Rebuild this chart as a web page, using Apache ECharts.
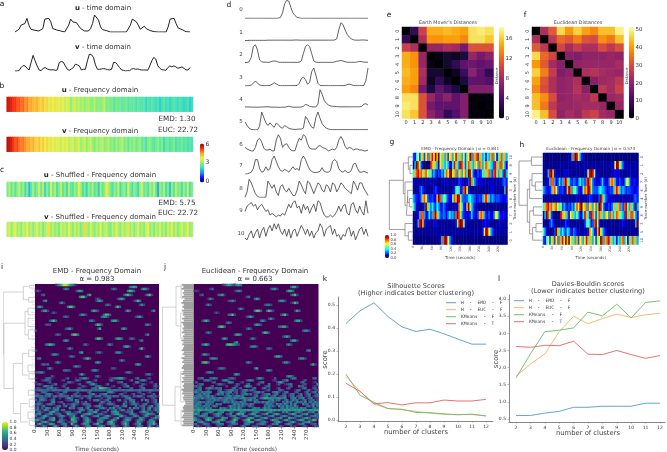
<!DOCTYPE html>
<html><head><meta charset="utf-8">
<style>html,body{margin:0;padding:0;background:#fff}#c{width:667px;height:452px}</style>
<script src="https://cdn.jsdelivr.net/npm/echarts@6/dist/echarts.min.js"></script>
</head><body><div id="c"></div>
<script>
// ---- panel a: time-domain traces
const uTime=[0,1,8,20,15,25,40,20,8,6,5,4,3,2,10,38,42,40,30,10,5,6,7,3,1,0,3,20,38,30,28,27,18,10,5,3,3,3,10,25,50,45,35,15,7,6,4,5,0,0,0,0,0,0,0,0,0,0,20,38,35,30,20,8,8,17,10,5,4,3,1,0,0,0,0,0,0,15,38,43,40,25,12,8,7,2,1,0,0];
const vTime=[0,0,1,10,16,15,8,3,25,46,30,15,3,1,8,10,6,4,3,4,2,3,25,28,26,15,5,2,6,10,20,18,15,3,5,5,30,50,48,40,18,5,5,6,7,6,4,3,5,25,25,18,10,3,2,0,1,1,6,7,5,6,4,3,3,3,2,15,30,40,35,15,8,4,3,2,10,15,12,15,12,8,10,12,8,3,3,10];
// ---- panels b, c: frequency strips
const bU=[5.6,5.5,5.4,5.2,5.2,5,5,4.8,4.9,4.6,4.7,4.4,4.5,4.3,4.2,4.4,4.1,4,4.2,3.9,4,3.6,3.9,3.7,3.9,3.6,3.8,3.5,3.7,3.4,3.6,3.5,3,3.4,3.5,3.2,3.4,3.1,3.3,3,3.2,3.3,3,3,3.3,2.9,3.1,2.9,3.1,3.4,2.8,3,2.8,2.9,2.5,2.9,2.7,2.8,2.6,2.7,2.8,2.5,2.7,2.6,2.7,2.4,2.7,2.5,2.5,2.6,2.2,2.5,2.4,2.6,2.4,2.3,2.5,2.1,2.4,2.6,2.3,2.5,2.2,2.4,2.6,2.4,2.3,2.5,2.4,2.2,2.3,2.5,2.1,2.3];
const bV=[5.7,5.6,5.5,5.2,5,5.1,4.8,4.7,4.8,4.6,4.4,4.5,4.2,4.4,4.1,4,4.2,3.9,4.1,3.8,4,3.6,3.9,3.7,3.5,3.8,3.6,3.4,3.7,3.5,3.7,3.3,3.5,3.6,3.2,3.4,3.6,3.1,3.3,3.5,3,3.3,3.5,3.1,2.8,3.3,3,3.2,3.4,2.9,3.1,3.3,2.9,3.1,2.7,3.2,2.9,3.1,3.3,2.8,3,2.6,3,2.8,3.1,2.7,2.9,3.1,2.6,2.8,2.4,2.9,3,2.7,2.5,2.8,3,2.6,2.9,2.3,2.7,2.8,2.5,2.7,2.9,2.4,2.7,2.6,2.8,2.5,2.7,2.4,2.6,2.5];
const cU=[2.8,3.3,2.6,3.1,2.5,3,3.4,2.7,3.1,2.3,2.9,1.9,2.6,3.2,2.5,2.9,3.5,2.7,3.3,2.2,3,2.5,3.6,2.8,3.2,2.4,2.9,3.4,2.6,3,2.3,3.3,2.7,2.5,3.1,2.8,3.7,3.2,2.4,2.9,2.2,3.1,2.7,3.3,2.5,2.9,2.1,3.2,2.6,3,3.8,3.3,2.8,2.4,3.1,2.7,3.4,2.3,2.9,3.1,2.5,3.6,2.8,2.4,3,2.7,2.2,3.2,3.5,2.6,2.9,2.4,3.2,2.8,3.4,2.6,1.8,3.1,2.7,3.3,2.4,2.9,2,3.1,2.5,3.4,2.8,3,2.3,3.2,2.6,3.5,2.4,2.9];
const cV=[3.3,3.6,3,3.4,3.7,3.1,3.3,2.9,3.5,3.2,3.7,3.1,3.4,2.9,3.3,3.6,3.1,3.4,2.8,3.2,3.5,3.9,3.1,3.4,3,3.2,2.8,3.5,3.2,3.4,3,3.7,3.3,2.9,3.5,3.1,3.4,2.8,3.2,4,3.3,3,3.6,3.2,2.9,3.4,3.1,3.7,3,3.3,3.5,3,2.8,3.4,3.1,3.8,3.2,2.9,3.5,3.1,3.3,3.9,3,3.4,2.8,3.3,3.6,3,3.2,2.9,3.5,3.7,3,3.3,2.8,3.4,3.1,3.6,3,3.3,2.9,3.5,3.2,3.8,3,3.4,2.9,3.2,3.6,3.1,3.3,3.7,3,3.2];
// ---- panel d: eleven traces (also the rows of panels g and h)
const traces=[
[0,0,0,0,0,0,0,0,0,0,0,0,0,0,0,0,.1,.5,3,8,10,9.5,6,3,1.5,.5,.2,0,0,0,0,0,0,0,0,0,0,0,0,0,0,0,0,0,0,0,0,0,0,0,0,0,0,0,0,0,0,0,0,0],
[.1,.1,.2,.2,.2,.2,.2,.2,.2,.2,.2,.3,.3,.3,.3,.3,.3,.3,.3,.3,.3,.3,.3,.3,.4,.4,.3,.3,.3,.3,.3,.3,.3,.3,.3,.3,.3,.3,.3,.3,.3,.3,.3,.4,1,6,10,9,6,3.5,2,1,.5,.3,.3,.3,.4,.4,.3,.2],
[.1,.1,.5,3,9,10,7,1.5,.5,.3,.3,.2,.3,.8,1,.8,.3,.2,.2,.2,.2,.2,.2,.2,.2,.2,.3,1,5,9,10,9,5,1,.3,.2,.2,.2,.2,.2,.2,.2,.2,.4,.8,1,1.2,1,.5,.3,.2,.2,.2,.2,.5,.7,.6,.3,.3,.2],
[.1,.1,.2,.5,1.5,2.8,1.5,.6,.3,.2,.2,.2,.3,1,1.8,1.2,.5,.2,.2,.2,.2,.2,.2,.2,.2,.3,1.5,4,5,3.5,1,2,8,10,6,1.5,.3,.2,.2,.2,.2,.2,.2,.2,.2,.2,.2,.2,.3,.8,1,.7,.3,.2,.2,.2,.2,.3,3,10],
[.5,.4,.4,.3,.3,.3,.3,.3,.4,.4,.5,.5,.4,.3,.3,.3,.2,.2,.3,.3,.5,.8,.5,.3,.3,.3,.3,.4,.8,1.8,1.5,.8,.5,.4,.4,2,10,7.5,4,2.5,1.5,1,.8,.7,.6,.5,.5,.5,.5,.5,.5,.5,.5,.5,.5,.5,.7,2,2.2,1.5],
[4.5,2.5,1,.3,.2,.1,.1,2,10,7,4,2.5,4,2.5,1.5,3.8,3,1.5,1,2.5,1.8,1,.6,.4,.3,.4,.5,.5,1,7.5,6,3.5,1.5,1,7,10,6.5,3.5,2,1,.5,.3,.2,.2,.2,.2,.2,.2,.2,.2,.2,.2,.2,.2,.2,.2,.2,.2,.2,.2],
[3,2,1.5,1,1,3,7,8,6,2.5,1.5,1.5,2,1,1,7,10,8,3,4.5,5,3,1.5,1,1.2,5,8,7,10,9,5,2.5,2,2,2,3.5,4,3,2.5,2,1,1.5,2,1.5,3,7,9,7,3.5,2,3,2.5,1.5,2,2,1.5,1.5,1,1,1.5],
[0,0,.5,1,3,8,8,3,1,1.5,4,2,3,8,10,7,4,2,1.5,2.5,2,1,2.5,4,2.5,3,2,8,10,8,5,2.5,1.5,.8,.8,1,1.5,3.5,1.5,1,1,2,7,8,7,3,1.5,1,2,1,.8,2,5.5,6,3,1,1,1.5,1,.5],
[0,3,10,8,5,2,.5,0,0,0,0,9,7,5,7,3,1,6,7,4,3,5,3,1,1,4,9,7,4,2,9,8,5,2,5,8,7,4,3,7,6,3,8,7,3,5,8,7,5,4,3,2,9,7,4,8,8,5,3,1],
[4,7,8,9,7,8,5,7,8,6,4,5,2,3,2,1,2,1.5,3,2,5,8,6,9,10,6,7,3,8,5,7,3,6,8,4,10,9,5,2,1,1,2,1,2,4,7,4,7,8,3,2,8,9,5,3,7,4,2,10,3],
[2,1,4,6,2,5,7,2,6,8,3,7,9,6,10,7,10,6,4,7,3,7,2,6,7,3,6,9,7,4,7,3,6,2,5,6,10,8,3,7,8,9,4,7,3,4,1,4,3,7,8,3,6,1,4,7,8,4,7,3]];
const traceLabels=['0','1','2','3','4','5','6','7','8','9','10'];
// ---- panels e, f: distance matrices
const emd=[[0,3,10,15,15,15.5,15,14.5,17,17.5,17],[3,0,8.5,14,14,14.5,14.5,13.5,17,17,16],[10,8.5,0,7.5,7.5,8.5,8,6,11,11,11],[15,14,7.5,0,.5,1.5,1,2,7.5,6,7],[15,14,7.5,.5,0,1.5,3,5,5.5,5,5.5],[15.5,14.5,8.5,1.5,1.5,0,1,3.5,7,5,3],[15,14.5,8,1,3,1,0,2,5,5,4.5],[14.5,13.5,6,2,5,3.5,2,0,6.5,6.5,6.5],[17,17,11,7.5,5.5,7,5,6.5,0,.3,.3],[17.5,17,11,6,5,5,5,6.5,.3,0,.3],[17,16,11,7,5.5,3,4.5,6.5,.3,.3,0]];
const euc=[[0,24,32,47,40,46,41,38,44,44,50],[24,0,26,34,32,37,31,30,39,36,44],[32,26,0,29,23,27,24,24,30,26,30],[47,34,29,0,19,18,20,20,20,21,20],[40,32,23,19,0,20,21,21,21,21,23],[46,37,27,18,20,0,24,25,23,22,21],[41,31,24,20,21,24,0,19,22,23,26],[38,30,24,20,21,25,19,0,26,23,28],[44,39,30,20,21,23,22,26,0,21,23],[44,36,26,21,21,22,23,23,21,0,21],[50,44,30,20,23,21,26,28,23,21,0]];
// ---- panels g, h: row orders and trees [y1,y2,join,x1,x2]
const gOrder=[10,8,9,4,3,6,5,7,2,1,0];
const hOrder=[0,1,2,7,6,4,9,8,3,5,10];
const gTree=[[120,145,105,113,113],[95,132,100,113,105],[220,245,103,113,113],[195,232,98,113,103],[213,270,94,98,113],[170,241,90,113,94],[113,205,85,100,90],[320,345,100,113,113],[295,332,90,113,100],[165,313,43,85,90]];
const hTree=[[95,120,470,503,503],[170,195,482,503,503],[145,182,472,503,482],[164,220,465,472,503],[245,270,476,503,503],[295,320,484,503,503],[307,345,474,484,503],[257,326,465,476,474],[192,291,458,465,465],[107,240,433,470,458]];
// ---- panels i, j: response rasters, [row, column, values in tenths]
const iCells=[[0,10,'13579986531'],[1,47,'3565'],[2,14,'253'],[2,38,'242'],[2,53,'3652'],[3,0,'131'],[3,20,'1464'],[3,46,'4763'],[5,3,'23'],[5,26,'36'],[5,44,'25752'],[5,55,'2572'],[6,22,'4772'],[7,30,'131'],[7,41,'2563'],[8,4,'35'],[8,30,'1463'],[8,49,'1374'],[9,12,'252'],[10,35,'242'],[10,52,'252'],[11,1,'363'],[11,16,'4773'],[11,40,'373'],[13,3,'2562'],[13,28,'3652'],[13,45,'263'],[13,58,'25'],[14,8,'131'],[15,22,'2552'],[15,34,'3773'],[16,33,'3552'],[16,14,'242'],[16,50,'2462'],[18,7,'2573'],[18,27,'352'],[18,38,'4662'],[20,5,'232'],[20,30,'3762'],[20,55,'352'],[22,15,'2462'],[22,31,'26'],[22,43,'363'],[23,0,'2'],[25,10,'242'],[25,18,'4774'],[25,55,'25'],[27,30,'3773'],[27,40,'3663'],[27,47,'242'],[28,14,'363'],[28,52,'24'],[30,5,'35763'],[30,24,'241'],[30,36,'252'],[31,44,'3662'],[32,16,'252'],[32,52,'371'],[33,0,'2'],[34,22,'36'],[34,30,'1341'],[34,40,'3551'],[35,8,'2552'],[36,17,'242'],[36,55,'362'],[37,1,'34'],[37,24,'2473'],[38,42,'252'],[39,10,'252'],[39,30,'363'],[40,3,'2423'],[40,50,'364'],[41,19,'2542'],[42,6,'252'],[42,38,'231'],[43,14,'3432'],[43,28,'2552'],[44,0,'23452'],[44,45,'2441'],[45,22,'262'],[45,55,'2441'],[46,8,'31'],[46,30,'241'],
[47,0,'10000234100000013000102355200000000001234566310000240000120000'],
[48,0,'00012342000001200000242000000130000002410000000130002452000000'],
[49,0,'20000013000000003421000001452100000000000234000000451000012000'],
[50,0,'12310000124000120000013000025520000130000001230001000231000130'],
[51,0,'00003542300001300000000231000034410000120000235000002300000241'],
[52,0,'13210134523100024000023100002342776532000130000230001340000120'],
[53,0,'23443342344343344333443444334343444334344333434443334343344333'],
[54,0,'10034300001200340000130000240000000045520000120000023000130000'],
[55,0,'23100345200134210002301000034510234501000024100013000230001300'],
[56,0,'44342334134234333042343123342133402343243302343103244310234231'],
[57,0,'10343200130020024530001300240000120034000000034510000120002300'],
[58,0,'30454201340000012340530000020345201340000340120453000405301240'],
[59,0,'02310000450123000001350214000000153024010000140235010000301240'],
[60,0,'34420134420000402134320143420000320134420000520134420134000134'],
[61,0,'13024000001340240135000002340134520000023402450000402340135024'],
[62,0,'24030453042500000534023402500000345204350240000505340240350234'],
[63,0,'34204530135403400000004530254034000040234025403240000240340253'],
[64,0,'03421004563200134401235000243560012300456400123350002465312004'],
[65,0,'34500235512340006543200134563002341000245631000354200123654300'],
[66,0,'40025631000245410335000642001345002463100056320014530026410035'],
[67,0,'12345003460023000156420034510000345530024600134420005431002363'],
[68,0,'56320014560034210076410025630003542001463000256400135620045310'],
[69,0,'20045631000354201236500024631003450046731002453000164200345600'],
[70,0,'04730025640013540073100256400347200135640002573001346000254730'],
[71,0,'30125300046200351002630013540002463000352100263000145300262013']];
const jCells=[[0,14,'1246531'],[0,20,'2564'],[1,48,'3662'],[2,8,'23'],[2,38,'2452'],[3,0,'121'],[3,20,'1353'],[3,46,'3663'],[5,3,'23'],[5,12,'3461'],[5,48,'2572'],[6,26,'24'],[7,7,'252'],[7,30,'363'],[8,17,'2352'],[8,42,'3552'],[9,48,'1374'],[10,6,'252'],[10,35,'2442'],[12,22,'252'],[13,30,'4773'],[13,36,'3752'],[13,50,'263'],[14,10,'131'],[15,17,'3472'],[15,43,'2572'],[16,26,'2462'],[17,37,'252'],[18,4,'2573'],[18,33,'352'],[18,50,'3662'],[19,16,'252'],[20,30,'3652'],[21,12,'4773'],[21,42,'34662'],[22,26,'252'],[23,54,'3552'],[24,6,'252'],[24,34,'3762'],[25,20,'2663'],[26,44,'2463'],[27,14,'363'],[27,28,'252'],[28,48,'3662'],[29,20,'36'],[30,4,'3573'],[30,16,'5776532'],[30,46,'352'],[31,28,'3552'],[32,36,'242'],[33,56,'35'],[35,4,'2642'],[36,40,'3663'],[37,8,'3553'],[37,52,'3552'],[39,4,'5773'],[39,26,'352'],[39,44,'2552'],[40,58,'362'],[42,12,'2442'],[42,30,'36'],[43,36,'353'],[44,6,'2453'],[45,20,'463'],[46,46,'3552'],
[47,0,'00234000345300000234200000000002552000003000000024400000000340'],
[48,0,'00000344200000355200000000245300000000012000235000000013000000'],
[49,0,'13000000023000000453000120000000134000000256300000000240000120'],
[50,0,'00234000000134210000032000240001300004000130012340000023000005'],
[51,0,'34230000130000002000130002653000000134000000000230004331000120'],
[52,0,'00340034532434000003401300000240003402000130002300000134000230'],
[53,0,'24340013000034012345230134523420000123000034200000134000241023'],
[54,0,'45325345400034523450230134000134523000034520134000230002401340'],
[55,0,'02342534000253403402030134524023002345013400230134002401340023'],
[56,0,'33453245342000023452345340000134012340234012340134023401240134'],
[57,0,'54435334354345334543543455334340135665544554450034503450134012'],
[58,0,'34200023425342345234200025345234000003452340134025340134023402'],
[59,0,'43453425340000253425342534000053425345342000425340253425034253'],
[60,0,'34530053420534000002534253425300000253420534253042500053402534'],
[61,0,'45342534025300000253425342034200000425342053425342530000342504'],
[62,0,'34534253400005342053425300000253402534200003425345342534000342'],
[63,0,'65665565566556565655656556565655565655656565565655656565556566'],
[64,0,'43500123540034500043102543000345310024530001435200345300143500'],
[65,0,'56402450013564002350047560024650013460025641000346500245610034'],
[66,0,'20345530002453100134500245300035420013450002453100345400013453'],
[67,0,'54100346530001654002453100256500034651002345000654300135640023'],
[68,0,'65320067500245630013750024670035642000365400256300135650023760'],
[69,0,'00456210034560002345610003466500134520004563000256310034562000'],
[70,0,'34102543000345400125430003540002345300143500024530013450002340'],
[71,0,'02310023100132000231000143000223100013200023100031200023100132']];
const iTree=[[112,297,10,70,12],[205,400,12,75,40],[95,135,70,86,86],[170,240,75,84,84],[325,475,40,68,62],[295,360,68,84,84],[445,500,62,84,84],[92,100,88,105,105],[128,142,86,105,105],[160,180,84,105,105],[190,215,84,105,105],[225,252,85,105,105],[285,305,86,105,105],[330,350,84,105,105],[355,372,87,105,105],[405,420,85,105,105],[432,455,88,105,105],[470,490,84,105,105],[495,510,88,105,105]];
const jTree=[[157,450,8,48,45],[95,213,48,62,62],[395,497,45,62,62],[90,130,63,72,72],[175,250,62,72,72],[350,440,62,72,72],[465,510,63,72,72]];
const iLeafStart=[95,97,92,99,94,96,98,93,100,95,97,93,99,94,96,100,92,95,98,94,97,93,99,95,92,96,100,94,97,93,98,95,92,99,94,96];
const jLeafStart=[66,70,64,72,68,71,66,73,69,64,71,67,72,65,70,68,73,66,71,64,69,72,67,70,65,73,68,71,64,70,66,72,69,65,71,67,73,64,70,66,72,68,65,71,69,64,73,67,70,65,72,68,71,64,69,66,72,68,70,74,76,72,68,70,66,72,68,65,71,67,70,66];
// ---- panels k, l: cluster scores
const clusters=[2,3,4,5,6,7,8,9,10,11,12];
const seriesNames=['H  -  EMD  -  F','H  -  EUC  -  F','KMeans  -  F','KMeans  -  T'];
const silEMD=[.42,.475,.51,.45,.405,.385,.395,.375,.352,.33,.33];
const silEUC=[.19,.125,.07,.05,.045,.038,.03,.025,.024,.024,.018];
const silKF=[.2,.108,.077,.05,.047,.033,.032,.027,.023,.026,.018];
const silKT=[.16,.125,.07,.076,.066,.075,.075,.087,.083,.083,.09];
const dbEMD=[.6,.6,.67,.72,.84,.84,.87,.87,.87,.96,.96];
const dbEUC=[1.75,2.1,2.4,3.05,3.5,3.28,3.43,3.56,3.46,3.54,3.59];
const dbKF=[1.7,2.4,3.05,3.09,3.16,3.62,3.51,3.85,3.45,3.9,3.95];
const dbKT=[2.62,2.59,2.65,2.64,2.77,2.39,2.38,2.5,2.38,2.27,2.35];
const timeTicks=[0,30,60,90,120,150,180,210,240,270];

const JET=['#00007f','#0000ff','#007fff','#00ffff','#7fff7f','#ffff00','#ff7f00','#ff0000','#7f0000'];
const SOFTJET=['#00007f','#1010ff','#2090f0','#35dcc8','#8ef07a','#eff04a','#ffa428','#ff2a10','#8a0000'];
const INFERNO=['#000004','#1b0c41','#4a0c6b','#781c6d','#a52c60','#cf4446','#ed6925','#fb9b06','#f7d13d','#fcffa4'];
const VIRIDIS=['#440154','#482878','#3e4989','#31688e','#26828e','#1f9e89','#35b779','#6ece58','#b5de2b','#fde725'];
const FONT='"DejaVu Sans"';
const LINE=['#5a9fd4','#ffb26b','#6dbf6d','#e66b6b'];

const G=[],X=[],Y=[],S=[],T=[];
const groups={strip:[],emd:[],euc:[],jet:[],vir:[]};
const hid=(min,max,inv)=>({type:'value',show:false,min,max,inverse:!!inv,splitLine:{show:false}});
const hcat=(n,inv)=>({type:'category',show:false,inverse:!!inv,data:Array.from({length:n},(_,i)=>i)});
function grid(l,t,w,h,x,y,bg){const i=G.length;
 G.push(bg?{left:l,top:t,width:w,height:h,show:true,backgroundColor:bg,borderWidth:0}:{left:l,top:t,width:w,height:h,show:false});
 X.push({gridIndex:i,...x});Y.push({gridIndex:i,...y});return i;}
function line(i,data,color,w,name){S.push({type:'line',xAxisIndex:i,yAxisIndex:i,data,name,symbol:'none',silent:true,animation:false,lineStyle:{color,width:w},itemStyle:{color}});}
function heat(i,data,g){groups[g].push(S.length);S.push({type:'heatmap',xAxisIndex:i,yAxisIndex:i,data,silent:true,animation:false,progressive:0,emphasis:{disabled:true}});}
function txt(s,x,y,o={}){T.push({type:'text',x,y,rotation:o.rot||0,silent:true,style:{text:s,x:0,y:0,textAlign:o.align||'center',textVerticalAlign:'middle',font:(o.weight||'normal')+' '+(o.size||7)+'px '+(o.family||FONT),fill:o.color||'#333',rich:{b:{font:'bold '+(o.size||7)+'px '+FONT,fill:'#222'}}}});}
const seq=a=>a.map((v,i)=>[i,v]);
function tree(i,m,c,w){const d=[];m.forEach(([y1,y2,j,x1,x2])=>{d.push([x1,y1],[j,y1],[j,y2],[x2,y2],['-','-']);});line(i,d,c,w);}

// panel letters
[['a',2,4],['b',2,86],['c',2,170],['d',229,5],['e',389,15],['f',525,15],['g',392,142],['h',522,145],['i',2,267],['j',165,267],['k',325,279],['l',499,279]].forEach(p=>txt(p[0],p[1],p[2],{size:7.5,color:'#111'}));

// a
line(grid(15,15,175,17,hid(0,88),hid(0,50)),seq(uTime),'#222',1);
line(grid(15,54,175,17,hid(0,87),hid(0,50)),seq(vTime),'#222',1);
txt('{b|u} - time domain',103,8);txt('{b|v} - time domain',103,47);
// b, c
function strip(t,vals){heat(grid(6.7,t,186.3,14.7,hcat(vals.length),hcat(1)),vals.map((v,i)=>[i,0,v]),'strip');}
strip(97,bU);strip(137,bV);strip(182,cU);strip(222,cV);
txt('{b|u} - Frequency domain',100,90);txt('{b|v} - Frequency domain',100,131);
txt('{b|u} - Shuffled - Frequency domain',100,175);txt('{b|v} - Shuffled - Frequency domain',100,217);
txt('EMD: 1.30',177,119,{size:7.2});txt('EUC: 22.72',178,130,{size:7.2});txt('EMD: 5.75',177,203,{size:7.2});txt('EUC: 22.72',178,213,{size:7.2});
function cbAxis(l,t,w,h,min,max,vals,fs,fmt){
 grid(l,t,w,h,hid(0,1),{type:'value',position:'right',min,max,splitLine:{show:false},axisLine:{show:false},
  axisTick:{show:false,customValues:vals},axisLabel:{show:true,customValues:vals,fontSize:fs,fontFamily:FONT,color:'#333',margin:1.5,formatter:fmt}});}
cbAxis(200,143.5,4,39,-.2,6.15,[0,3,6],6,v=>String(v));
// d
const dBase=[18.3,40.7,62.7,86,107.7,130,152.7,174,197.3,218.7,241.7];
traces.forEach((t,k)=>{line(grid(245,dBase[k]-18,123,18,hid(0,59),hid(0,10)),seq(t),'#3a3a3a',.8);txt(traceLabels[k],241,dBase[k]-8.5,{size:5.5,color:'#444'});});
// e, f
function matrix(l,m,g,title,cbl,max,ticks){
 const ax=(rot)=>({type:'category',data:traceLabels,axisLine:{show:false},axisTick:{length:1.5,lineStyle:{color:'#555',width:.5}},splitLine:{show:false},axisLabel:{interval:0,fontSize:5,fontFamily:FONT,color:'#333',margin:2,rotate:rot}});
 const d=[];m.forEach((r,y)=>r.forEach((v,x)=>d.push([x,y,v])));
 heat(grid(l,27,91.5,91.5,ax(0),{...ax(90),inverse:true}),d,g);
 txt(title,l+46,23,{size:4.8,color:'#444'});txt('Distance',cbl-2,76,{size:3.8,rot:Math.PI/2,color:'#444'});
 cbAxis(cbl,27,5,91.5,0,max,ticks,5.5,v=>String(v));
}
matrix(402,emd,'emd',"Earth Mover's Distances",499,18.4,[0,4,8,12,16]);
matrix(532,euc,'euc','Euclidean Distances',629,51.7,[0,10,20,30,40,50]);
// g, h
function traceHeat(l,w,order,tr,treeL,title,tm,tx){
 const d=[];order.forEach((r,y)=>traces[r].forEach((v,x)=>{const mx=Math.max(...traces[r]);d.push([x,y,v/mx]);}));
 heat(grid(l,153,w,91.5,hcat(60),{type:'category',inverse:true,position:'right',data:order.map(String),axisLine:{show:false},axisTick:{length:1,lineStyle:{color:'#666',width:.4}},axisLabel:{interval:0,fontSize:3.6,fontFamily:FONT,color:'#444',rotate:90,margin:1.5}}),d,'jet');
 grid(l,153,w,91.5,{type:'value',min:0,max:298,splitLine:{show:false},axisLine:{show:false},axisTick:{length:1,lineStyle:{color:'#666',width:.4},customValues:timeTicks},axisLabel:{customValues:timeTicks,fontSize:3.2,fontFamily:FONT,color:'#444',rotate:90,margin:1.5}},hid(0,1));
 tree(grid(treeL,153,l-treeL,91.5,hid(tm,tm+(l-treeL)*3),hid(83,358,true)),tr,'#777',.7);
 txt(title,l+w/2,149,{size:4.2,color:'#444'});txt('Time (seconds)',l+w/2,258,{size:4,color:'#444'});
 txt('Trace number from (d)',tx,198.5,{size:3.8,rot:Math.PI/2,color:'#444'});
}
traceHeat(413,94.5,gOrder,gTree,389,'EMD - Frequency Domain | α = 0.841',42,515);
traceHeat(543,95.5,hOrder,hTree,519,'Euclidean - Frequency Domain | α = 0.574',433,646);
cbAxis(385,235,4,23,0,1,[0,.2,.4,.6,.8,1],3.8,v=>v.toFixed(1));
// i, j
function raster(l,w,cells,title,alpha,tx){
 const d=[];cells.forEach(([r,c,s])=>[...s].forEach((ch,k)=>{if(c+k<62&&ch!=='0')d.push([c+k,r,+ch/10]);}));
 heat(grid(l,284,w,143,hcat(62),hcat(72,true),'#440154'),d,'vir');
 grid(l,284,w,143,{type:'value',min:0,max:298,splitLine:{show:false},axisLine:{show:false},axisTick:{length:2,lineStyle:{color:'#555',width:.5},customValues:timeTicks},axisLabel:{customValues:timeTicks,fontSize:5.5,fontFamily:FONT,color:'#444',rotate:90,margin:2.5}},hid(0,1));
 txt(title,tx,271,{size:7,color:'#333'});txt(alpha,tx,279.5,{size:7});
 txt('Time (seconds)',tx,449,{size:5.8,color:'#444'});
}
raster(35,124,iCells,'EMD - Frequency Domain','α = 0.983',97);
raster(193.5,125,jCells,'Euclidean - Frequency Domain','α = 0.663',255);
const iD=grid(3.3,284,31.7,143,hid(10,105),hid(88,515,true));
const iLeaf=[];iLeafStart.forEach((s,k)=>iLeaf.push([s,92+k*11.6],[105,92+k*11.6],['-','-']));
line(iD,iLeaf,'#c0c0c0',.5);tree(iD,iTree,'#b4b4b4',.6);
const jD=grid(162.6,284,30.9,143,hid(8,100),hid(88,515,true));
const jLeaf=[];jLeafStart.forEach((s,k)=>jLeaf.push([s,91+k*5.9],[100,91+k*5.9],['-','-']));
line(jD,jLeaf,'#a0a0a0',1.8);tree(jD,jTree,'#b4b4b4',.6);
cbAxis(2,422,6,28,0,1,[0,.2,.4,.6,.8,1],4.4,v=>v.toFixed(1));
// k, l
function scores(l,t,w,h,xr,yr,yt,sets,tit1,tit2,cx,y1,ylx,fmt){
 const a={axisLine:{show:true,onZero:false,lineStyle:{color:'#888',width:1}},axisTick:{length:1.5,lineStyle:{color:'#777',width:.5}},splitLine:{show:false}};
 const lab={fontSize:4.5,fontFamily:FONT,color:'#333',margin:3};
 const i=grid(l,t,w,h,{type:'value',min:xr[0],max:xr[1],...a,axisTick:{...a.axisTick,customValues:clusters},axisLabel:{...lab,customValues:clusters}},
  {type:'value',min:yr[0],max:yr[1],...a,axisTick:{...a.axisTick,customValues:yt},axisLabel:{...lab,customValues:yt,formatter:fmt}});
 sets.forEach((s,k)=>line(i,s.map((v,j)=>[clusters[j],v]),LINE[k],.95,seriesNames[k]));
 txt(tit1,cx,y1,{size:6.6,color:'#444'});txt(tit2,cx,y1+7,{size:6.6,color:'#444'});
 txt('number of clusters',cx,t+h+11,{size:6.8,color:'#444'});
 txt('score',ylx,t+h/2+.5,{size:6.8,rot:Math.PI/2,color:'#444'});
}
scores(338,297,155,124,[1.43,12.5],[-.004,.535],[0,.1,.2,.3,.4,.5],[silEMD,silEUC,silKF,silKT],'Silhouette Scores','(Higher indicates better clustering)',416,286,325.5,v=>v.toFixed(1));
scores(509,295,156,127,[1.51,12.35],[.41,4.12],[.5,1,1.5,2,2.5,3,3.5,4],[dbEMD,dbEUC,dbKF,dbKT],'Davies-Bouldin scores','(Lower indicates better clustering)',588,284,496.5,v=>v.toFixed(1));

const vm=(g,min,max,colors,left,top,w,h)=>({type:'continuous',seriesIndex:groups[g],min,max,inRange:{color:colors},left,top,itemWidth:w,itemHeight:h,text:null,padding:0,calculable:false,realtime:false,hoverLink:false,textStyle:{fontSize:1,color:'rgba(0,0,0,0)'},showLabel:false,formatter:()=>''});
const legend=(left,top)=>({data:seriesNames,left,top,orient:'vertical',icon:'rect',itemWidth:10,itemHeight:1,itemGap:1.6,padding:0,selectedMode:false,textStyle:{fontSize:4.6,lineHeight:5.4,fontFamily:'"DejaVu Sans Mono"',color:'#444'}});
const chart=echarts.init(document.getElementById('c'),null,{renderer:'canvas'});
chart.setOption({animation:false,backgroundColor:'#fff',tooltip:{show:false},grid:G,xAxis:X,yAxis:Y,series:S,graphic:{elements:T},
 legend:[legend(446,300),legend(514,298)],
 visualMap:[vm('strip',0,6,SOFTJET,200,143.5,4,39),vm('emd',0,18.4,INFERNO,499,27,5,91.5),vm('euc',0,51.7,INFERNO,629,27,5,91.5),vm('jet',0,1,JET,385,235,4,23),vm('vir',0,1,VIRIDIS,2,422,6,28)]});
</script></body></html>
